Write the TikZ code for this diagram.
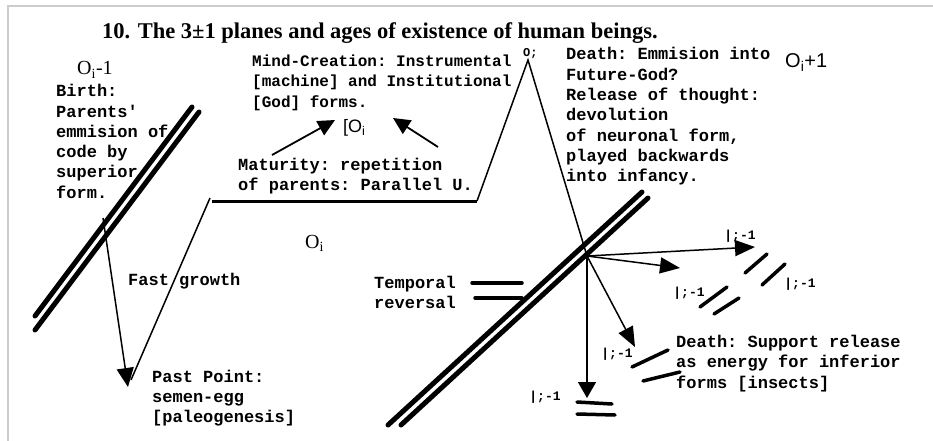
\documentclass[tikz,border=0pt]{standalone}
\usepackage{fontspec}
\setmainfont{Liberation Serif}
\setmonofont{Liberation Mono}
\newfontfamily\arialf{Liberation Sans}
\usetikzlibrary{arrows.meta}
\begin{document}
\begin{tikzpicture}[x=1pt,y=-1pt,
  mono/.style={font=\fontsize{17}{20}\ttfamily\bfseries, anchor=base west, inner sep=0pt},
  lbl/.style={font=\fontsize{13}{13}\ttfamily\bfseries, anchor=center, inner sep=0pt},
  bigo/.style={font=\fontsize{20}{24}\selectfont, anchor=base west, inner sep=0pt},
  thinl/.style={line width=1.5pt},
  arr/.style={line width=1.5pt, -{Triangle[length=20pt,width=16pt]}},
  plane/.style={line width=5pt, line cap=round},
  bar/.style={line width=3.5pt, line cap=round}]
\useasboundingbox (0,0) rectangle (933,441);
\draw[draw=black!20, line width=2pt] (8,441) -- (8,6) -- (933,6);

% title
\node[font=\fontsize{22.5}{27}\selectfont\bfseries, anchor=base west, inner sep=0pt] (title) at (102,39) {10. The 3±1 planes and ages of existence of human beings.};

% O labels
\node[bigo] (oprev) at (77,75) {O\textsubscript{i}-1};
\node[bigo, font=\fontsize{20}{24}\arialf] (onext) at (785,68) {O\textsubscript{i}+1};
\node[bigo] (omid) at (305,248) {O\textsubscript{i}};
\node[bigo, font=\fontsize{18}{22}\arialf] (obox) at (343,132) {[O\textsubscript{i}};
\node[font=\fontsize{12}{12}\ttfamily\bfseries, anchor=base west, inner sep=0pt] (opeak) at (523,57) {O;};

% text blocks
\foreach \t [count=\k from 0] in {{Birth:},{Parents'},{emmision of},{code by},{superior},{form.}}
  \node[mono] (birth\k) at (56,97+20.2*\k) {\t};
\foreach \t [count=\k from 0] in {{Mind-Creation: Instrumental},{[machine] and Institutional},{[God] forms.}}
  \node[mono, font=\fontsize{16}{20}\ttfamily\bfseries] (mind\k) at (252,67+20*\k) {\t};
\foreach \t [count=\k from 0] in {{Maturity: repetition},{of parents: Parallel U.}}
  \node[mono] (mat\k) at (238,170+20*\k) {\t};
\node[mono] (fast) at (128,285) {Fast growth};
\foreach \t [count=\k from 0] in {{Past Point:},{semen-egg},{[paleogenesis]}}
  \node[mono] (past\k) at (152,382+20*\k) {\t};
\foreach \t [count=\k from 0] in {{Temporal},{reversal}}
  \node[mono] (temp\k) at (374,288+20*\k) {\t};
\foreach \t [count=\k from 0] in {{Death: Emmision into},{Future-God?},{Release of thought:},{devolution},{of neuronal form,},{played backwards},{into infancy.}}
  \node[mono] (death\k) at (566,60+20.3*\k) {\t};
\foreach \t [count=\k from 0] in {{Death: Support release},{as energy for inferior},{forms [insects]}}
  \node[mono] (sup\k) at (676,347+20.5*\k) {\t};

% small labels
\node[lbl] (la) at (740,236) {|;-1};
\node[lbl] (lb) at (689,293) {|;-1};
\node[lbl] (lc) at (800,284) {|;-1};
\node[lbl] (ld) at (617,354) {|;-1};
\node[lbl] (le) at (545,397) {|;-1};

% planes
\coordinate (p1a) at (192,107); \coordinate (p1b) at (35,316);
\coordinate (p2a) at (199,112); \coordinate (p2b) at (35,330);
\coordinate (q1a) at (642,192); \coordinate (q1b) at (388,425);
\coordinate (q2a) at (648,198); \coordinate (q2b) at (401,425);
\draw[plane] (p1a) -- (p1b);
\draw[plane] (p2a) -- (p2b);
\draw[plane] (q1a) -- (q1b);
\draw[plane] (q2a) -- (q2b);

% life path
\coordinate (vstart) at (103,218);
\coordinate (vtip) at (128,387);
\coordinate (vbot) at (131,380);
\coordinate (vtop) at (210,198);
\coordinate (hl) at (212,201);
\coordinate (hr) at (477,201);
\coordinate (peak) at (528,60);
\coordinate (C) at (587,256);
\draw[line width=1.5pt, -{Triangle[length=19pt,width=17pt]}] (vstart) -- (vtip);
\draw[thinl] (vbot) -- (vtop);
\draw[line width=3pt] (hl) -- (hr);
\draw[thinl, line join=miter] (hr) -- (peak) -- (C);

% arrows to [Oi
\coordinate (m1) at (272,155); \coordinate (m1t) at (335,120);
\coordinate (m2) at (438,147); \coordinate (m2t) at (393,118);
\draw[line width=1.8pt, -{Triangle[length=17pt,width=16pt]}] (m1) -- (m1t);
\draw[line width=1.8pt, -{Triangle[length=17pt,width=16pt]}] (m2) -- (m2t);

% radiating arrows
\coordinate (ta) at (755,247);
\coordinate (tb) at (680,268);
\coordinate (tc) at (587,398);
\coordinate (td) at (635,347);
\draw[arr] (C) -- (ta);
\draw[arr] (C) -- (tb);
\draw[arr, -{Triangle[length=16pt,width=18pt]}] (C) -- (tc);
\draw[arr] (C) -- (td);

% bars
\draw[bar] (472,283) coordinate (t1a) -- (522,283) coordinate (t1b);
\draw[bar] (475,298) coordinate (t2a) -- (522,298) coordinate (t2b);
\draw[bar] (700,307) coordinate (b1a) -- (727,287) coordinate (b1b);
\draw[bar] (714,314) coordinate (b2a) -- (739,298) coordinate (b2b);
\draw[bar] (745,273) coordinate (a1a) -- (767,254) coordinate (a1b);
\draw[bar] (762,285) coordinate (a2a) -- (785,264) coordinate (a2b);
\draw[bar] (632,367) coordinate (d1a) -- (668,350) coordinate (d1b);
\draw[bar] (643,381) coordinate (d2a) -- (680,372) coordinate (d2b);
\draw[bar] (577,402) coordinate (e1a) -- (612,404) coordinate (e1b);
\draw[bar] (577,414) coordinate (e2a) -- (615,415) coordinate (e2b);
\end{tikzpicture}
\end{document}
